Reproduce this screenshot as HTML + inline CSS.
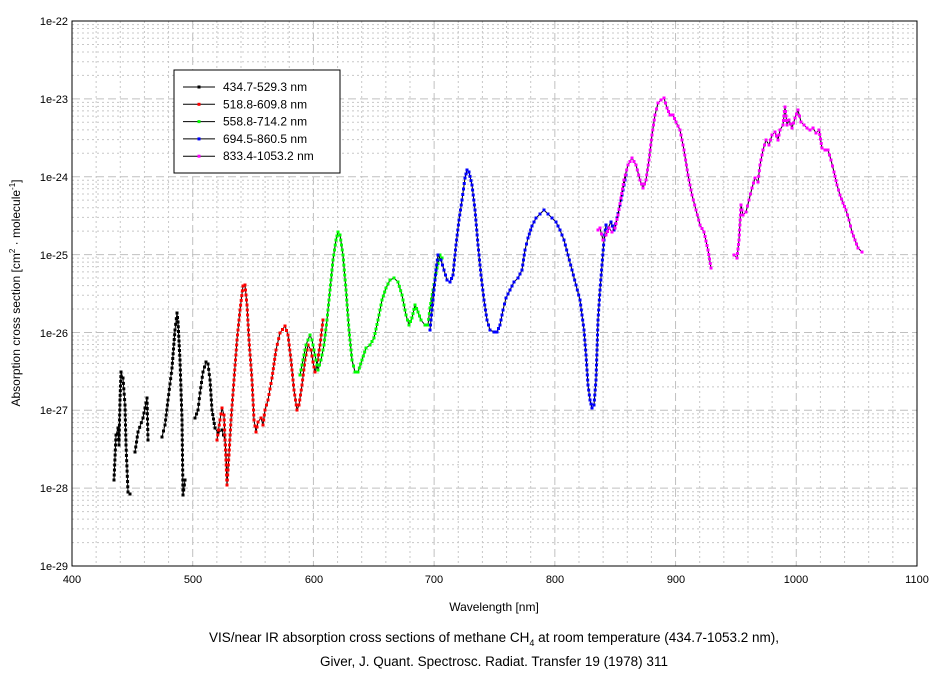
<!DOCTYPE html>
<html><head><meta charset="utf-8"><style>
body{margin:0;background:#fff;}
svg{display:block;font-family:"Liberation Sans",Arial,sans-serif;}
</style></head><body>
<svg id="s" width="944" height="676" xmlns="http://www.w3.org/2000/svg">
<rect width="944" height="676" fill="#fff"/>
<g id="grid"></g>
<rect x="72" y="21" width="845" height="545" fill="none" stroke="#000" stroke-width="1"/>
<g id="data"></g>
<g font-size="11" fill="#000">
<text x="68" y="570" text-anchor="end">1e-29</text>
<text x="68" y="492" text-anchor="end">1e-28</text>
<text x="68" y="414" text-anchor="end">1e-27</text>
<text x="68" y="337" text-anchor="end">1e-26</text>
<text x="68" y="259" text-anchor="end">1e-25</text>
<text x="68" y="181" text-anchor="end">1e-24</text>
<text x="68" y="103" text-anchor="end">1e-23</text>
<text x="68" y="25" text-anchor="end">1e-22</text>
<text x="72" y="583" text-anchor="middle">400</text>
<text x="193" y="583" text-anchor="middle">500</text>
<text x="314" y="583" text-anchor="middle">600</text>
<text x="434" y="583" text-anchor="middle">700</text>
<text x="555" y="583" text-anchor="middle">800</text>
<text x="676" y="583" text-anchor="middle">900</text>
<text x="796" y="583" text-anchor="middle">1000</text>
<text x="917" y="583" text-anchor="middle">1100</text>
<text x="494" y="611" text-anchor="middle" font-size="12">Wavelength [nm]</text>
<text transform="translate(20,293) rotate(-90)" text-anchor="middle" font-size="12">Absorption cross section [cm<tspan font-size="8" dy="-5">2</tspan><tspan dy="5"> · molecule</tspan><tspan font-size="8" dy="-5">-1</tspan><tspan dy="5">]</tspan></text>
<text x="494" y="642" text-anchor="middle" font-size="13.5">VIS/near IR absorption cross sections of methane CH<tspan font-size="9" dy="4">4</tspan><tspan dy="-4"> at room temperature (434.7-1053.2 nm),</tspan></text>
<text x="494" y="666" text-anchor="middle" font-size="13.5">Giver, J. Quant. Spectrosc. Radiat. Transfer 19 (1978) 311</text>
</g>
<g>
<rect x="174" y="70" width="166" height="103" fill="#fff" stroke="#000"/>
<g id="leg" font-size="12"></g>
</g>
</svg>
<script>
var ns="http://www.w3.org/2000/svg",S=document.getElementById('s');
function el(t,a,p){var e=document.createElementNS(ns,t);for(var k in a)e.setAttribute(k,a[k]);p.appendChild(e);return e;}
var G=document.getElementById('grid');
for(var nm=400;nm<=1100;nm+=20){var x=72+(nm-400)*1.2071;var maj=nm%100==0;
el('line',{x1:x,x2:x,y1:21,y2:566,stroke:maj?'#c0c0c0':'#c8c8c8','stroke-dasharray':maj?'8,4':'2,3','stroke-width':1},G);}
for(var d=0;d<7;d++){var y0=21+d*77.86;
el('line',{x1:72,x2:917,y1:y0,y2:y0,stroke:'#c0c0c0','stroke-dasharray':'8,4'},G);
for(var m=2;m<=9;m++){var y=y0+77.86-Math.log10(m)*77.86;
el('line',{x1:72,x2:917,y1:y,y2:y,stroke:'#c8c8c8','stroke-dasharray':'2,3'},G);}}
var ser=[
['#000',[[[114,480],[116,435],[118,428],[119,445],[120,400],[121,372],[123,378],[125,405],[126,445],[128,492],[130,494]],[[135,452],[138,432],[143,418],[145,408],[147,398],[148,440]],[[162,437],[165,425],[168,400],[172,368],[175,330],[177,313],[178,322],[180,360],[182,420],[183,495],[185,480]],[[195,418],[198,410],[200,393],[203,372],[206,362],[208,364],[210,380],[212,410],[215,428],[218,433],[222,430],[225,440],[227,470]]]],
['#f00',[[[217,440],[220,420],[222,408],[224,415],[226,460],[227,485],[229,455],[231,420],[234,380],[237,340],[240,310],[243,286],[245,285],[247,305],[249,340],[252,380],[254,420],[256,432],[258,422],[261,418],[263,425],[265,410],[268,400],[272,378],[276,350],[280,333],[285,326],[288,335],[291,360],[294,390],[297,410],[299,405],[302,385],[305,360],[308,345],[311,350],[313,362],[315,372],[317,365],[320,345],[323,320]]]],
['#0f0',[[[300,375],[303,360],[306,345],[310,335],[312,340],[315,355],[318,370],[321,360],[324,345],[327,320],[330,290],[333,260],[336,240],[338,232],[340,235],[343,255],[346,290],[349,330],[352,360],[355,372],[358,372],[362,360],[366,348],[370,345],[374,338],[378,320],[382,300],[386,288],[390,280],[394,278],[398,282],[402,295],[406,315],[409,325],[412,318],[415,305],[418,312],[421,320],[425,325],[428,325],[430,308],[433,290],[437,268],[440,255],[442,258]]]],
['#00f',[[[430,330],[433,300],[436,270],[438,255],[441,260],[444,270],[447,280],[450,282],[453,275],[456,245],[459,220],[462,200],[465,178],[467,170],[469,172],[472,185],[475,210],[478,245],[481,275],[484,300],[487,320],[490,330],[494,332],[497,332],[500,325],[503,310],[506,298],[510,290],[514,282],[518,278],[522,270],[525,250],[528,238],[532,226],[536,218],[540,214],[544,210],[548,214],[552,218],[556,222],[560,230],[564,240],[568,255],[572,270],[576,285],[580,300],[584,330],[586,355],[588,385],[590,400],[592,408],[594,405],[596,380],[598,320],[600,290],[602,265],[604,240],[606,225],[608,228],[611,222],[614,230],[617,218],[620,205],[623,190],[626,175]]]],
['#f0f',[[[598,230],[600,228],[603,240],[606,235],[609,228],[612,232],[615,228],[618,215],[621,198],[624,180],[628,165],[632,158],[636,165],[640,180],[643,188],[646,180],[649,160],[652,135],[655,115],[658,103],[661,100],[664,98],[667,108],[670,115],[673,115],[676,122],[680,130],[684,150],[688,175],[692,195],[696,210],[700,225],[704,232],[708,250],[711,268]],[[734,255],[737,258],[739,240],[741,205],[743,215],[746,212],[749,200],[752,188],[755,178],[758,182],[760,165],[763,150],[766,140],[769,145],[772,135],[775,132],[778,140],[780,130],[783,125],[785,107],[787,125],[789,120],[792,128],[795,118],[798,110],[801,122],[804,125],[807,128],[810,130],[813,128],[816,133],[819,130],[822,148],[825,150],[828,150],[831,160],[834,172],[837,185],[840,195],[843,203],[846,210],[849,220],[852,232],[855,240],[858,248],[862,252]]]]
];
var D=document.getElementById('data');
ser.forEach(function(s){s[1].forEach(function(seg){
el('polyline',{points:seg.map(function(p){return p.join(',')}).join(' '),fill:'none',stroke:'#000','stroke-width':1},D);
for(var i=0;i<seg.length-1;i++){var a=seg[i],b=seg[i+1];var L=Math.hypot(b[0]-a[0],b[1]-a[1]);var n=Math.max(1,Math.round(L/5));
for(var j=0;j<n;j++){var t=j/n;el('rect',{x:a[0]+(b[0]-a[0])*t-1.5,y:a[1]+(b[1]-a[1])*t-1.5,width:3,height:3,fill:s[0]},D);}}
var e=seg[seg.length-1];el('rect',{x:e[0]-1.5,y:e[1]-1.5,width:3,height:3,fill:s[0]},D);
});});
var labs=['434.7-529.3 nm','518.8-609.8 nm','558.8-714.2 nm','694.5-860.5 nm','833.4-1053.2 nm'];
var Lg=document.getElementById('leg');
labs.forEach(function(t,i){var y=87+i*17.3;
el('line',{x1:183,x2:215,y1:y,y2:y,stroke:'#000'},Lg);
el('rect',{x:197.5,y:y-1.5,width:3,height:3,fill:ser[i][0]},Lg);
var tx=el('text',{x:223,y:y+4},Lg);tx.textContent=t;});
</script>
</body></html>
